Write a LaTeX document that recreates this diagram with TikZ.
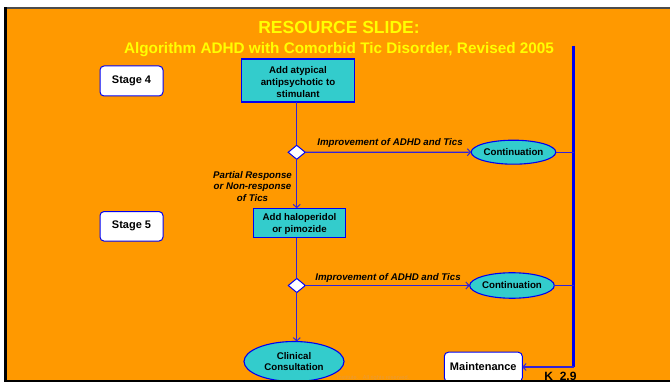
\documentclass[tikz,border=0pt]{standalone}
\usepackage{fontspec}
\setmainfont{Liberation Sans}
\usetikzlibrary{arrows.meta,shapes.geometric}
\definecolor{slideorange}{HTML}{FF9900}
\definecolor{boxcyan}{HTML}{33CCCC}
\definecolor{flowblue}{HTML}{0000F0}
\definecolor{linkblue}{HTML}{3322D8}
\definecolor{titleyellow}{HTML}{FFFF00}
\definecolor{faintnote}{HTML}{E89A3A}

\begin{document}
\begin{tikzpicture}[x=1pt,y=-1pt,
  every node/.style={inner sep=0pt, outer sep=0pt, text=black,
    font=\bfseries\fontsize{9.7}{11.7}\selectfont},
  actbox/.style={draw=flowblue, line width=1.1pt, fill=boxcyan, align=center},
  stagebox/.style={draw=flowblue, line width=1pt, fill=white, rounded corners=4pt,
    minimum width=63pt, minimum height=30pt, font=\bfseries\fontsize{11}{13}\selectfont},
  outcome/.style={ellipse, draw=flowblue, line width=1.1pt, fill=boxcyan, align=center},
  decision/.style={diamond, draw=flowblue, line width=1pt, fill=white,
    minimum width=17pt, minimum height=14pt, aspect=1.2},
  branchlabel/.style={font=\bfseries\itshape\fontsize{9.7}{11.7}\selectfont, align=center},
  link/.style={draw=linkblue, line width=1.1pt},
  arrowlink/.style={link, -{Straight Barb[length=3.2pt,width=7pt,line width=1pt]}},
]
\useasboundingbox (0,0) rectangle (670,382);

% slide background and frame
\fill[white] (0,0) rectangle (670,382);
\fill[slideorange] (5,8.5) rectangle (670,381);
\draw[black!70, line width=2.4pt] (4,8.3) -- (670,8.3);

% title
\node[anchor=base, text=titleyellow, font=\bfseries\fontsize{17.5}{20}\selectfont]
  (title) at (339,34) {RESOURCE SLIDE:};
\node[anchor=base, text=titleyellow, font=\bfseries\fontsize{15.3}{18}\selectfont]
  (subtitle) at (339,54) {Algorithm ADHD with Comorbid Tic Disorder, Revised 2005};

% stage markers
\node[stagebox] (stage4) at (131.5,81) {Stage 4};
\node[stagebox, minimum height=29.5pt] (stage5) at (131.5,226.3) {Stage 5};

% treatment steps
\node[actbox, minimum width=113pt, minimum height=43pt] (atypical) at (298,80.5) {};
\node[align=center, anchor=center] (atypicaltext) at (298,82)
  {Add atypical\\antipsychotic to\\stimulant};
\node[decision] (dec1) at (296.7,152.3) {};
\node[outcome, minimum width=80pt, minimum height=24pt] (cont1) at (513.5,152.2) {Continuation};

\node[actbox, minimum width=92pt, minimum height=29.5pt] (halo) at (299.5,223) {};
\node[align=center, anchor=center] (halotext) at (299.5,224)
  {Add haloperidol\\or pimozide};
\node[decision] (dec2) at (296.8,285.5) {};
\node[outcome, minimum width=80pt, minimum height=25.5pt] (cont2) at (512,285.5) {Continuation};

% faint footer note
\node[anchor=base west, text=faintnote, font=\fontsize{5.6}{6}\selectfont]
  (note) at (337,379) {Institute.\ \ \ All rights reserved.};

\node[outcome, minimum width=100pt, minimum height=40pt] (consult) at (294,361.5)
  {Clinical\\Consultation};
\node[draw=flowblue, line width=1pt, fill=white, rounded corners=4pt,
  minimum width=78pt, minimum height=29.5pt, font=\bfseries\fontsize{11}{13}\selectfont]
  (maint) at (483.3,367) {Maintenance};

% maintenance rail
\coordinate (railtop) at (573.5,46);
\coordinate (railbot) at (573.5,367);
\draw[draw=flowblue, line width=2.2pt] (railtop) -- (railbot);

% connectors
\draw[link] (atypical.south -| dec1.north) -- (dec1.north);
\draw[arrowlink] (dec1.east) -- (cont1.west);
\draw[link] (cont1.east) -- (cont1.east -| railtop);
\draw[arrowlink] (dec1.south) -- (dec1.south |- halo.north);

\draw[link] (halo.south -| dec2.north) -- (dec2.north);
\draw[arrowlink] (dec2.east) -- (cont2.west);
\draw[link] (cont2.east) -- (cont2.east -| railtop);
\draw[arrowlink] (dec2.south) -- (dec2.south |- consult.north);

\draw[arrowlink] (railbot) -- (maint.east);

% branch labels
\node[branchlabel, anchor=base] (imp1) at (390,146) {Improvement of ADHD and Tics};
\node[branchlabel, anchor=base] (imp2) at (388,280.5) {Improvement of ADHD and Tics};
\node[branchlabel] (partial) at (252.5,186.5) {Partial Response\\or Non-response\\of Tics};

% slide code
\node[anchor=base, font=\bfseries\fontsize{12}{14}\selectfont] (code) at (560.5,381) {K\ \ 2.9};

% frame edges drawn last
\draw[black, line width=2.6pt] (5.3,7.5) -- (5.3,382);
\draw[black, line width=2pt] (4,381.2) -- (670,381.2);
\end{tikzpicture}
\end{document}
